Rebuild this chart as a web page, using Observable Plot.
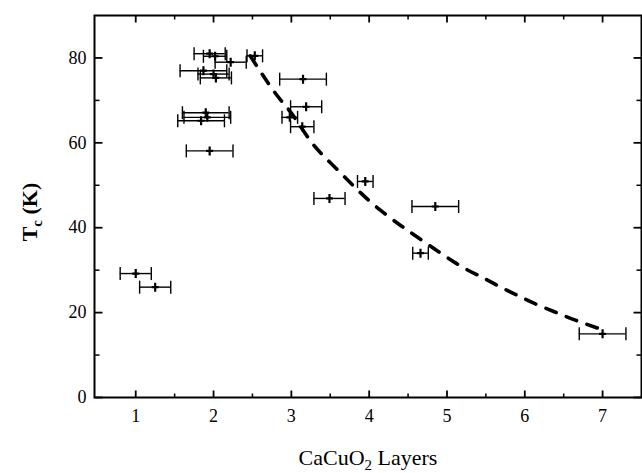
<!DOCTYPE html>
<html>
<head>
<meta charset="utf-8">
<script src="https://cdn.jsdelivr.net/npm/d3@7"></script>
<script src="https://cdn.jsdelivr.net/npm/@observablehq/plot@0.6"></script>
<style>
  html, body { margin: 0; padding: 0; background: #fff; }
  #chart svg { display: block; }
</style>
</head>
<body>
<div id="chart"></div>
<script>
// Data points: CaCuO2 layers (x), Tc in K (y), horizontal error half-width
const layers = [1.0, 1.25, 1.95, 2.02, 2.22, 2.53, 1.87, 2.0, 2.03, 1.9, 1.92, 1.84, 1.95, 3.15, 3.19, 2.98, 3.14, 3.95, 3.49, 4.85, 4.66, 7.0];
const tc     = [29.2, 26.0, 81.0, 80.4, 79.0, 80.5, 77.0, 76.2, 75.3, 67.1, 66.0, 65.2, 58.1, 75.0, 68.5, 66.0, 63.8, 50.9, 46.9, 45.0, 34.0, 15.0];
const xErr   = [0.2, 0.2, 0.2, 0.15, 0.2, 0.1, 0.3, 0.2, 0.2, 0.3, 0.3, 0.3, 0.3, 0.3, 0.2, 0.1, 0.15, 0.1, 0.2, 0.3, 0.1, 0.3];

// Dashed guide curve
const curveX = [2.47, 2.79, 3.0, 3.22, 3.41, 3.65, 3.88, 4.14, 4.40, 4.65, 5.12, 5.42, 5.66, 5.89, 6.13, 6.38, 6.64, 6.96];
const curveY = [80.5, 71.8, 67.0, 61.1, 57.0, 52.6, 48.4, 44.2, 40.6, 37.4, 31.6, 28.6, 26.3, 24.2, 22.1, 20.2, 18.3, 16.2];

// Ticks
const xMajor = [1, 2, 3, 4, 5, 6, 7];
const xMinor = [1.5, 2.5, 3.5, 4.5, 5.5, 6.5];
const yMajor = [0, 20, 40, 60, 80];
const yMinor = [10, 30, 50, 70];

const points = layers.map((x, i) => ({x, y: tc[i], e: xErr[i]}));
const curve = curveX.map((x, i) => ({x, y: curveY[i]}));

// Custom stroke symbols (pixel-sized)
const seg = (x0, y0, x1, y1) => ({draw(ctx) { ctx.moveTo(x0, y0); ctx.lineTo(x1, y1); }});
const cap = seg(0, -6.5, 0, 6.5);
const plus = {draw(ctx) { ctx.moveTo(0, -4.5); ctx.lineTo(0, 4.5); ctx.moveTo(-3.5, 0); ctx.lineTo(3.5, 0); }};
const tickUpMaj = seg(0, 0, 0, -7), tickUpMin = seg(0, 0, 0, -4);
const tickDnMaj = seg(0, 0, 0, 7), tickDnMin = seg(0, 0, 0, 4);
const tickRtMaj = seg(0, 0, 8, 0), tickRtMin = seg(0, 0, 5, 0);
const tickLfMaj = seg(0, 0, -8, 0), tickLfMin = seg(0, 0, -5, 0);

const tickDot = (data, ch, anchor, symbol, sw) =>
  Plot.dot(data, {[ch]: d => d, frameAnchor: anchor, symbol, fill: "none", stroke: "black", strokeWidth: sw, r: 4});

const svg = Plot.plot({
  width: 642,
  height: 473,
  marginLeft: 94,
  marginRight: 1,
  marginTop: 15,
  marginBottom: 76,
  style: {fontFamily: "'Liberation Serif', 'DejaVu Serif', serif", fontSize: "17px", background: "#fff", color: "#000"},
  x: {domain: [0.47, 7.5]},
  y: {domain: [0, 90]},
  marks: [
    // tick marks (inward)
    tickDot(xMajor, "x", "bottom", tickUpMaj, 1.8),
    tickDot(xMinor, "x", "bottom", tickUpMin, 1.5),
    tickDot(xMajor, "x", "top", tickDnMaj, 1.8),
    tickDot(xMinor, "x", "top", tickDnMin, 1.5),
    tickDot(yMajor, "y", "left", tickRtMaj, 1.8),
    tickDot(yMinor, "y", "left", tickRtMin, 1.5),
    tickDot(yMajor, "y", "right", tickLfMaj, 1.8),
    tickDot(yMinor, "y", "right", tickLfMin, 1.5),
    Plot.axisX({ticks: xMajor, tickFormat: d3.format("d"), tickSize: 0, tickPadding: 12, label: null, fontSize: 18}),
    Plot.axisY({ticks: yMajor, tickFormat: d3.format("d"), tickSize: 0, tickPadding: 8, label: null, fontSize: 18}),
    // error bars
    Plot.ruleY(points, {y: "y", x1: d => d.x - d.e, x2: d => d.x + d.e, stroke: "black", strokeWidth: 1.4}),
    Plot.dot(points, {x: d => d.x - d.e, y: "y", symbol: cap, fill: "none", stroke: "black", strokeWidth: 1.4}),
    Plot.dot(points, {x: d => d.x + d.e, y: "y", symbol: cap, fill: "none", stroke: "black", strokeWidth: 1.4}),
    Plot.dot(points, {x: "x", y: "y", symbol: plus, fill: "none", stroke: "black", strokeWidth: 2.2}),
    // dashed curve
    Plot.line(curve, {x: "x", y: "y", curve: "natural", stroke: "black", strokeWidth: 3.6, strokeDasharray: "11,11"}),
    Plot.frame({stroke: "black", strokeWidth: 2})
  ]
});

const s = d3.select(svg);
// x-axis title
const xt = s.append("text")
  .attr("x", 368).attr("y", 465)
  .attr("text-anchor", "middle")
  .attr("font-size", 22)
  .attr("fill", "black");
xt.append("tspan").text("CaCuO");
xt.append("tspan").attr("font-size", 15).attr("dy", 5).text("2");
xt.append("tspan").attr("dy", -5).text(" Layers");

// y-axis title
const yt = s.append("text")
  .attr("transform", "translate(37,212) rotate(-90)")
  .attr("text-anchor", "middle")
  .attr("font-size", 22)
  .attr("font-weight", "bold")
  .attr("fill", "black");
yt.append("tspan").text("T");
yt.append("tspan").attr("font-size", 15).attr("dy", 5).text("c");
yt.append("tspan").attr("dy", -5).text(" (K)");

document.getElementById("chart").appendChild(svg);
</script>
</body>
</html>
